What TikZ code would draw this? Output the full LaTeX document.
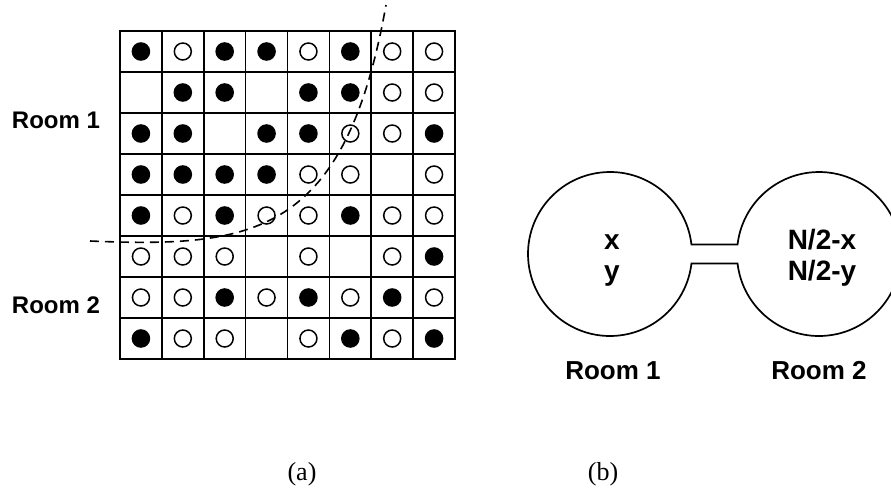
\documentclass[tikz,border=0pt]{standalone}
\usepackage{fontspec}
\setmainfont{Liberation Serif}
\setsansfont{Liberation Sans}
\tikzset{
  full/.style={fill=black},
  hollow/.style={draw=black,line width=1.5pt},
  cut/.style={line width=1.6pt,dash pattern=on 9pt off 6pt},
  roomtxt/.style={font=\sffamily\bfseries\fontsize{24}{28}\selectfont,anchor=base},
  bigtxt/.style={font=\sffamily\bfseries\fontsize{28}{31}\selectfont,anchor=base},
  captxt/.style={font=\fontsize{26}{30}\selectfont,anchor=base}
}
\begin{document}
\begin{tikzpicture}[x=1pt,y=-1pt]
\useasboundingbox (0,0) rectangle (891,488);
\clip (0,0) rectangle (891,488);
\begin{scope}[shift={(120,31)},x=41.875pt,y=-41pt]
\foreach \i in {1,...,7} {
  \draw[line width=1.6pt] (\i,0) -- (\i,8);
  \draw[line width=1.6pt] (0,\i) -- (8,\i);
}
\draw[line width=1.8pt] (0,0) rectangle (8,8);
\fill[full] (0.5,0.5) circle[radius=9.3pt] (2.5,0.5) circle[radius=9.3pt] (3.5,0.5) circle[radius=9.3pt] (5.5,0.5) circle[radius=9.3pt];
\draw[hollow] (1.5,0.5) circle[radius=8.5pt] (4.5,0.5) circle[radius=8.5pt] (6.5,0.5) circle[radius=8.5pt] (7.5,0.5) circle[radius=8.5pt];
\fill[full] (1.5,1.5) circle[radius=9.3pt] (2.5,1.5) circle[radius=9.3pt] (4.5,1.5) circle[radius=9.3pt] (5.5,1.5) circle[radius=9.3pt];
\draw[hollow] (6.5,1.5) circle[radius=8.5pt] (7.5,1.5) circle[radius=8.5pt];
\fill[full] (0.5,2.5) circle[radius=9.3pt] (1.5,2.5) circle[radius=9.3pt] (3.5,2.5) circle[radius=9.3pt] (4.5,2.5) circle[radius=9.3pt] (7.5,2.5) circle[radius=9.3pt];
\draw[hollow] (5.5,2.5) circle[radius=8.5pt] (6.5,2.5) circle[radius=8.5pt];
\fill[full] (0.5,3.5) circle[radius=9.3pt] (1.5,3.5) circle[radius=9.3pt] (2.5,3.5) circle[radius=9.3pt] (3.5,3.5) circle[radius=9.3pt];
\draw[hollow] (4.5,3.5) circle[radius=8.5pt] (5.5,3.5) circle[radius=8.5pt] (7.5,3.5) circle[radius=8.5pt];
\fill[full] (0.5,4.5) circle[radius=9.3pt] (2.5,4.5) circle[radius=9.3pt] (5.5,4.5) circle[radius=9.3pt];
\draw[hollow] (1.5,4.5) circle[radius=8.5pt] (3.5,4.5) circle[radius=8.5pt] (4.5,4.5) circle[radius=8.5pt] (6.5,4.5) circle[radius=8.5pt] (7.5,4.5) circle[radius=8.5pt];
\fill[full] (7.5,5.5) circle[radius=9.3pt];
\draw[hollow] (0.5,5.5) circle[radius=8.5pt] (1.5,5.5) circle[radius=8.5pt] (2.5,5.5) circle[radius=8.5pt] (4.5,5.5) circle[radius=8.5pt] (6.5,5.5) circle[radius=8.5pt];
\fill[full] (2.5,6.5) circle[radius=9.3pt] (4.5,6.5) circle[radius=9.3pt] (6.5,6.5) circle[radius=9.3pt];
\draw[hollow] (0.5,6.5) circle[radius=8.5pt] (1.5,6.5) circle[radius=8.5pt] (3.5,6.5) circle[radius=8.5pt] (5.5,6.5) circle[radius=8.5pt] (7.5,6.5) circle[radius=8.5pt];
\fill[full] (0.5,7.5) circle[radius=9.3pt] (5.5,7.5) circle[radius=9.3pt] (7.5,7.5) circle[radius=9.3pt];
\draw[hollow] (1.5,7.5) circle[radius=8.5pt] (2.5,7.5) circle[radius=8.5pt] (4.5,7.5) circle[radius=8.5pt] (6.5,7.5) circle[radius=8.5pt];
\end{scope}
\coordinate (cutA) at (90,241);
\coordinate (cutB) at (386,5);
\draw[cut] (cutA) .. controls (255,248) and (345,235) .. (cutB);
\node[roomtxt] (lroom1) at (56,128) {Room 1};
\node[roomtxt] (lroom2) at (56,313) {Room 2};
\coordinate (room1c) at (610,254);
\coordinate (room2c) at (819,254);
\draw[line width=1.7pt] (691.45,244.5) arc[start angle=-6.65,end angle=-353.35,radius=82]
  -- (737.55,263.5) arc[start angle=173.35,end angle=-173.35,radius=82] -- cycle;
\node[bigtxt] (xa) at (612,249) {x};
\node[bigtxt] (ya) at (612,280) {y};
\node[bigtxt] (xb) at (822,249) {N/2-x};
\node[bigtxt] (yb) at (822,280) {N/2-y};
\node[bigtxt,font=\sffamily\bfseries\fontsize{26}{30}\selectfont] (rroom1) at (613,379) {Room 1};
\node[bigtxt,font=\sffamily\bfseries\fontsize{26}{30}\selectfont] (rroom2) at (819,379) {Room 2};
\node[captxt] (capa) at (302,480) {(a)};
\node[captxt] (capb) at (603,480) {(b)};
\end{tikzpicture}
\end{document}
